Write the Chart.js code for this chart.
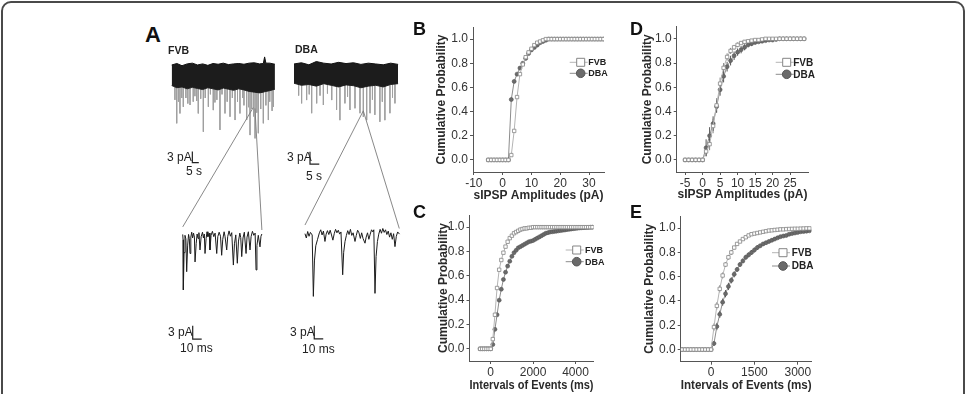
<!DOCTYPE html>
<html>
<head>
<meta charset="utf-8">
<script src="https://cdn.jsdelivr.net/npm/chart.js@4.4.0/dist/chart.umd.min.js"></script>
<style>
body { margin: 0; background: #fff; width: 967px; height: 394px; overflow: hidden; position: relative; font-family: "Liberation Sans", Arial, sans-serif; }
#frame { position: absolute; left: 1px; top: 1px; width: 964px; height: 440px; border: 2px solid #4a4a4a; border-radius: 10px; box-sizing: border-box; }
canvas { position: absolute; }
.lbl { position: absolute; color: #222; white-space: nowrap; line-height: 1; }
.letter { font-weight: bold; font-size: 18px; color: #111; }
.strain { font-weight: bold; font-size: 10.5px; }
.sc { font-size: 12px; }
</style>
</head>
<body>
<div id="frame"></div>

<canvas id="fvbLong" width="120" height="130" style="left:165px;top:55px"></canvas>
<canvas id="dbaLong" width="125" height="130" style="left:285px;top:55px"></canvas>
<canvas id="fvbZoom" width="120" height="260" style="left:165px;top:100px"></canvas>
<canvas id="dbaZoom" width="125" height="260" style="left:285px;top:100px"></canvas>

<canvas id="chartB" width="192" height="192" style="left:420px;top:15px"></canvas>
<canvas id="chartC" width="195" height="194" style="left:417px;top:200px"></canvas>
<canvas id="chartD" width="190" height="192" style="left:630px;top:15px"></canvas>
<canvas id="chartE" width="190" height="194" style="left:630px;top:200px"></canvas>

<div class="lbl letter" style="left:145px;top:24px;font-size:22px">A</div>
<div class="lbl strain" style="left:168px;top:45px">FVB</div>
<div class="lbl strain" style="left:295px;top:44px">DBA</div>
<div class="lbl sc" style="left:167px;top:151px">3 pA</div>
<div class="lbl sc" style="left:186px;top:165px">5 s</div>
<div class="lbl sc" style="left:287px;top:151px">3 pA</div>
<div class="lbl sc" style="left:306px;top:170px">5 s</div>
<div class="lbl sc" style="left:168px;top:326px">3 pA</div>
<div class="lbl sc" style="left:180px;top:342px">10 ms</div>
<div class="lbl sc" style="left:290px;top:326px">3 pA</div>
<div class="lbl sc" style="left:302px;top:343px">10 ms</div>

<div class="lbl letter" style="left:413px;top:20px">B</div>
<div class="lbl letter" style="left:413px;top:203px">C</div>
<div class="lbl letter" style="left:630px;top:20px">D</div>
<div class="lbl letter" style="left:630px;top:203px">E</div>

<script>
// ---- panel A: example traces (time in s / ms, current in pA) ----
const fvbBandT = [0, 4, 8, 12, 16, 20, 24, 28, 32, 36, 40, 44, 48, 52, 56, 60, 64, 68, 71, 72, 73, 76, 80]
const fvbBandHi = [3.0, 3.4, 2.8, 3.3, 3.5, 3.0, 3.3, 2.9, 3.4, 3.2, 3.5, 3.1, 3.3, 3.4, 3.2, 3.5, 3.6, 3.3, 3.4, 5.2, 3.5, 3.5, 3.2]
const fvbBandLo = [-2.6, -3.2, -3.0, -3.5, -3.1, -3.4, -3.7, -3.2, -3.5, -3.8, -3.3, -3.6, -3.9, -3.5, -3.8, -4.2, -4.4, -4.6, -4.4, -4.3, -4.2, -4.0, -3.6]
const fvbSpikeT = [2.5, 3.9, 5.2, 6.4, 7.8, 9.0, 11, 12.5, 14.2, 16.7, 18, 19.4, 20.6, 22.5, 24.5, 26, 28.4, 30, 32.2, 33.5, 35, 37.4, 39, 41.3, 43, 45.2, 47, 49.1, 51, 52.9, 55, 56, 58.1, 59.5, 60.7, 62, 63.4, 64.6, 66, 67.1, 69, 71.0, 73, 74.9, 76, 77.8, 78.8]
const fvbSpikeI = [-6.5, -12.9, -7, -10.2, -6, -8.4, -6, -7.5, -7.9, -7.0, -5.5, -6.8, -10.2, -6.2, -15.2, -6, -8.4, -5, -9.3, -7.2, -6.5, -14.7, -5, -10.2, -7, -11.1, -6, -12.0, -7, -10.2, -6, -8, -12.0, -8.5, -16.1, -9, -11, -17.0, -10, -15.6, -9, -12.9, -8, -12.0, -7, -9.5, -8.4]

const dbaBandT = [0, 4, 8, 12, 16, 20, 24, 28, 32, 36, 40, 44, 48, 52, 56]
const dbaBandHi = [2.2, 2.5, 2.0, 2.8, 2.4, 2.2, 2.6, 2.3, 2.5, 2.1, 2.4, 2.2, 2.0, 2.4, 2.1]
const dbaBandLo = [-2.5, -3.0, -2.8, -3.2, -2.6, -3.0, -3.4, -2.9, -3.1, -3.6, -3.2, -3.0, -3.4, -2.8, -2.6]
const dbaSpikeT = [2.5, 4.1, 6.8, 8.2, 9.5, 12.2, 14, 15.8, 18, 20.3, 22.9, 24.7, 27.4, 28.8, 30.1, 32.8, 35.5, 37.3, 39.1, 40.9, 42.2, 43.5, 46.2, 47.5, 48.9, 51.6, 53, 54.3]
const dbaSpikeI = [-5.5, -7.4, -6.6, -5.2, -9.8, -7.4, -5.5, -7.8, -5, -6.6, -9.0, -11.5, -7.4, -5.8, -9.0, -8.6, -9.8, -10.7, -11.5, -9.8, -6.5, -10.2, -11.9, -7, -11.5, -9.8, -6, -7.4]

const fvbZoomT = [0, 0.4, 0.7, 1.5, 2.5, 3.5, 4.4, 5.5, 6.5, 7.3, 8.1, 9, 10, 11, 12, 13, 13.7, 15, 16, 17, 18, 19.2, 20.5, 22, 23, 24, 24.8, 26, 27, 28, 29.5, 30.3, 31.5, 33, 34.5, 36, 37.8, 39, 40.5, 42, 43.3, 44.5, 46, 47, 48.9, 50, 51.5, 53, 54.5, 56.3, 57.5, 59, 60.7, 62, 63.5, 64.5, 65.6, 67, 68.5, 70.4, 71.5, 73, 74.8, 76, 77.5, 79, 80.5, 81.5, 82.5, 84, 85.9, 87, 88]
const fvbZoomI = [0.6, -0.6, -11.9, -3.5, 0.4, -0.4, -7.8, -1.8, 0.6, -0.3, -3.7, 0, 1.1, -0.2, 0.9, 0, -5.6, -1.4, 0.7, -0.3, 1, -2.9, 0.1, 1.1, -0.2, 0.7, -3.7, -0.3, 1.2, 0.1, 0.9, -2.9, 0.4, 1.3, 0.1, 0.9, -3.7, 0.1, 1.1, 0.2, -4.1, -0.5, 1.2, 0.2, -2.9, 0.1, 1.4, 0.2, 1, -6.3, -1.5, 0.5, -5.9, -0.9, 0.9, -0.1, -4.4, -0.2, 1.1, -3.7, 0, 1.2, -2.9, 0.1, 1.3, 0.4, 0.9, -7.4, -1.9, 0.4, -2.2, 0.2, 0.7]
const dbaZoomT = [0, 1.5, 3, 4.5, 6, 8, 9.3, 10.5, 12, 14, 16, 17.5, 19, 20.5, 22.2, 23.5, 25, 26.5, 28, 29.5, 31, 32.5, 34, 35.5, 37, 38.5, 40, 41.9, 43, 44.5, 46, 47.5, 49, 50.5, 52, 53.5, 55.6, 57, 58.5, 60, 61.5, 63, 64.5, 66.7, 68, 69.5, 71, 72.5, 74, 75.5, 76.5, 77.8, 79, 80.5, 82, 83.5, 85, 86.5, 88, 89.5, 91, 92.5, 94, 95.5, 97, 98.5, 100, 101.5, 103, 105]
const dbaZoomI = [0.3, -0.7, 0.8, -0.3, 0.6, 0, -14.2, -6, -2.5, -1, 0.5, 1.2, 0, 0.9, -1.5, 0.2, 1, 0.1, 1.1, 0, -1.2, 0.3, 1.3, 0.5, 1.1, 0.2, 0.7, -9.2, -4, -1.5, -0.1, 1, 0.1, 1.3, -0.1, 0.5, -1.5, -0.1, 1.1, 0.5, -0.8, 0.5, -0.8, -1.9, -0.5, 0.5, -1, 0.2, 1.2, 0.7, 1.2, -13.5, -5, -1.5, 0.2, 1.3, 0.4, 1.5, 0.6, 1.2, 0.1, 0.9, -0.5, 0.5, -1, 0.3, -2.7, -0.3, 0.7, 0.2]

// ---- panels B-E: cumulative probability ----
const yTicks = [0, 0.2, 0.4, 0.6, 0.8, 1.0]

const bX = [-5, -4, -3, -2, -1, 0, 1, 2, 3, 4, 5, 6, 7, 8, 9, 10, 11, 12, 13, 14, 15, 16, 17, 18, 19, 20, 21, 22, 23, 24, 25, 26, 27, 28, 29, 30, 31, 32, 33, 34, 35]
const bFvb = [0, 0, 0, 0, 0, 0, 0, 0, 0.04, 0.24, 0.52, 0.71, 0.79, 0.85, 0.89, 0.92, 0.95, 0.97, 0.98, 0.99, 1, 1, 1, 1, 1, 1, 1, 1, 1, 1, 1, 1, 1, 1, 1, 1, 1, 1, 1, 1, 1]
const bDba = [0, 0, 0, 0, 0, 0, 0, 0, 0.5, 0.65, 0.71, 0.76, 0.80, 0.84, 0.88, 0.91, 0.93, 0.95, 0.97, 0.98, 0.99, 1, 1, 1, 1, 1, 1, 1, 1, 1, 1, 1, 1, 1, 1, 1, 1, 1, 1, 1, 1]
const bXTicks = [-10, 0, 10, 20, 30]

const cX = [-500, -400, -300, -200, -100, 0, 100, 200, 300, 400, 500, 600, 700, 800, 900, 1000, 1100, 1200, 1300, 1400, 1500, 1600, 1700, 1800, 1900, 2000, 2100, 2200, 2300, 2400, 2500, 2600, 2700, 2800, 2900, 3000, 3100, 3200, 3300, 3400, 3500, 3600, 3700, 3800, 3900, 4000, 4100, 4200, 4300, 4400, 4500, 4600, 4700, 4800]
const cFvb = [0, 0, 0, 0, 0, 0, 0.08, 0.28, 0.5, 0.65, 0.73, 0.79, 0.84, 0.88, 0.91, 0.93, 0.95, 0.96, 0.97, 0.98, 0.985, 0.99, 0.99, 0.995, 0.995, 1, 1, 1, 1, 1, 1, 1, 1, 1, 1, 1, 1, 1, 1, 1, 1, 1, 1, 1, 1, 1, 1, 1, 1, 1, 1, 1, 1, 1]
const cDba = [0, 0, 0, 0, 0, 0, 0.035, 0.16, 0.28, 0.40, 0.49, 0.57, 0.63, 0.68, 0.72, 0.76, 0.79, 0.81, 0.83, 0.84, 0.85, 0.86, 0.87, 0.88, 0.885, 0.89, 0.90, 0.91, 0.92, 0.93, 0.94, 0.95, 0.955, 0.96, 0.962, 0.965, 0.967, 0.97, 0.972, 0.975, 0.977, 0.98, 0.982, 0.985, 0.988, 0.99, 0.992, 0.994, 0.995, 0.996, 0.997, 0.998, 0.999, 1.0]
const cXTicks = [0, 2000, 4000]

const dX = [-5, -4, -3, -2, -1, 0, 1, 2, 3, 4, 5, 6, 7, 8, 9, 10, 11, 12, 13, 14, 15, 16, 17, 18, 19, 20, 21, 22, 23, 24, 25, 26, 27, 28, 29]
const dFvb = [0, 0, 0, 0, 0, 0, 0.07, 0.13, 0.28, 0.45, 0.63, 0.76, 0.85, 0.90, 0.93, 0.95, 0.965, 0.975, 0.98, 0.985, 0.99, 0.99, 0.995, 1, 1, 1, 1, 1, 1, 1, 1, 1, 1, 1, 1]
const dDba = [0, 0, 0, 0, 0, 0, 0.1, 0.2, 0.3, 0.44, 0.58, 0.69, 0.77, 0.82, 0.86, 0.89, 0.91, 0.93, 0.95, 0.96, 0.97, 0.975, 0.98, 0.985, 0.99, 0.99, 0.995, 1, 1, 1, 1, 1, 1, 1, 1]
const dFvbErr = [0, 0, 0, 0, 0, 0, 0.04, 0.05, 0.06, 0.06, 0.05, 0.04, 0.03, 0.025, 0.02, 0.02, 0.015, 0.015, 0.01, 0.01, 0.01, 0, 0, 0, 0, 0, 0, 0, 0, 0, 0, 0, 0, 0, 0]
const dDbaErr = [0, 0, 0, 0, 0, 0, 0.07, 0.07, 0.06, 0.05, 0.05, 0.05, 0.04, 0.04, 0.035, 0.03, 0.03, 0.025, 0.02, 0.02, 0.015, 0.01, 0.01, 0.01, 0, 0, 0, 0, 0, 0, 0, 0, 0, 0, 0]
const dXTicks = [-5, 0, 5, 10, 15, 20, 25]

const eX = [-1000, -900, -800, -700, -600, -500, -400, -300, -200, -100, 0, 100, 200, 300, 400, 500, 600, 700, 800, 900, 1000, 1100, 1200, 1300, 1400, 1500, 1600, 1700, 1800, 1900, 2000, 2100, 2200, 2300, 2400, 2500, 2600, 2700, 2800, 2900, 3000, 3100, 3200, 3300, 3400]
const eFvb = [0, 0, 0, 0, 0, 0, 0, 0, 0, 0, 0, 0.185, 0.36, 0.5, 0.61, 0.70, 0.76, 0.80, 0.84, 0.87, 0.89, 0.91, 0.925, 0.94, 0.95, 0.955, 0.96, 0.965, 0.97, 0.975, 0.98, 0.982, 0.985, 0.987, 0.99, 0.99, 0.992, 0.993, 0.994, 0.995, 0.995, 0.996, 0.997, 0.998, 0.998]
const eDba = [0, 0, 0, 0, 0, 0, 0, 0, 0, 0, 0, 0.05, 0.19, 0.29, 0.39, 0.46, 0.52, 0.57, 0.62, 0.66, 0.70, 0.73, 0.76, 0.78, 0.80, 0.82, 0.84, 0.855, 0.87, 0.88, 0.89, 0.90, 0.91, 0.92, 0.93, 0.935, 0.94, 0.95, 0.955, 0.96, 0.965, 0.97, 0.972, 0.975, 0.978]
const eFvbErr = [0, 0, 0, 0, 0, 0, 0, 0, 0, 0, 0, 0.03, 0.03, 0.03, 0.025, 0.02, 0.02, 0.02, 0.015, 0.015, 0.01, 0.01, 0.01, 0.01, 0.01, 0.01, 0.01, 0.01, 0.01, 0.01, 0.01, 0, 0, 0, 0, 0, 0, 0, 0, 0, 0, 0, 0, 0, 0]
const eDbaErr = [0, 0, 0, 0, 0, 0, 0, 0, 0, 0, 0, 0.02, 0.03, 0.03, 0.03, 0.03, 0.03, 0.025, 0.025, 0.02, 0.02, 0.02, 0.02, 0.02, 0.02, 0.02, 0.02, 0.015, 0.015, 0.015, 0.015, 0.015, 0.015, 0.01, 0.01, 0.01, 0.01, 0.01, 0.01, 0.01, 0.01, 0.01, 0.01, 0.01, 0.01]
const eXTicks = [0, 1500, 3000]

Chart.defaults.font.family = '"Liberation Sans", Arial, sans-serif'

function pairs(xs, ys) {
    return xs.map(function(x, i) { return {x: x, y: ys[i]} })
}

function spikes(ts, amps) {
    let pts = []
    ts.forEach(function(t, i) {
        pts.push({x: t, y: 0}, {x: t, y: amps[i]}, {x: t, y: null})
    })
    return pts
}

function traceChart(id, xMin, xMax, yMin, yMax, datasets) {
    return new Chart(document.getElementById(id), {
        type: 'line',
        data: {datasets: datasets},
        options: {
            responsive: false, animation: false, events: [], devicePixelRatio: 1,
            layout: {padding: 0},
            plugins: {legend: {display: false}, tooltip: {enabled: false}},
            elements: {point: {radius: 0}, line: {tension: 0}},
            scales: {
                x: {type: 'linear', display: false, min: xMin, max: xMax},
                y: {type: 'linear', display: false, min: yMin, max: yMax}
            }
        }
    })
}

function bandSets(ts, hi, lo, spT, spI) {
    return [
        {data: pairs(ts, hi), borderColor: '#111', borderWidth: 1, fill: '+1', backgroundColor: '#1c1c1c', order: 1},
        {data: pairs(ts, lo), borderColor: '#2a2a2a', borderWidth: 1, fill: false, order: 1},
        {data: spikes(spT, spI), borderColor: '#a0a0a0', borderWidth: 1, spanGaps: false, order: 2}
    ]
}

function scaleBar(t, top, len, dur) {
    return {data: [{x: t, y: top}, {x: t, y: top - len}, {x: t + dur, y: top - len}], borderColor: '#222', borderWidth: 1.2, order: 0}
}

traceChart('fvbLong', -5.19, 87.8, -29.7, 5.72,
    bandSets(fvbBandT, fvbBandHi, fvbBandLo, fvbSpikeT, fvbSpikeI).concat([scaleBar(16, -20.6, 3, 5)]))
traceChart('dbaLong', -4.84, 62.4, -27.3, 4.39,
    bandSets(dbaBandT, dbaBandHi, dbaBandLo, dbaSpikeT, dbaSpikeI).concat([scaleBar(8.6, -19.2, 3, 5)]))

traceChart('fvbZoom', -19.7, 113.7, -27.7, 30.9, [
    {data: pairs(fvbZoomT, fvbZoomI), borderColor: '#1c1c1c', borderWidth: 1},
    {data: [{x: 0, y: 2.3}, {x: 78.4, y: 29.2}], borderColor: '#7a7a7a', borderWidth: 0.9},
    {data: [{x: 88, y: 1.6}, {x: 80.3, y: 29}], borderColor: '#7a7a7a', borderWidth: 0.9},
    scaleBar(11.1, -20, 3, 10)
])
traceChart('dbaZoom', -22.2, 116.7, -28.9, 31.2, [
    {data: pairs(dbaZoomT, dbaZoomI), borderColor: '#1c1c1c', borderWidth: 1},
    {data: [{x: 0, y: 2.3}, {x: 64.8, y: 28.7}], borderColor: '#7a7a7a', borderWidth: 0.9},
    {data: [{x: 104.8, y: 1.5}, {x: 64.8, y: 28.7}], borderColor: '#7a7a7a', borderWidth: 0.9},
    scaleBar(10.3, -21, 3, 10)
])

// legend drawn inside the plot, line-marker-line like the original
const sideLegend = {
    id: 'sideLegend',
    afterDraw(chart, args, opts) {
        const ctx = chart.ctx
        chart.data.datasets.forEach(function(ds, i) {
            const x = opts.x
            const y = opts.y + i * opts.gap
            ctx.save()
            ctx.strokeStyle = ds.borderColor
            ctx.lineWidth = 1
            ctx.beginPath()
            ctx.moveTo(x - 11, y)
            ctx.lineTo(x + 7, y)
            ctx.stroke()
            ctx.fillStyle = ds.pointBackgroundColor
            ctx.strokeStyle = ds.pointBorderColor
            ctx.beginPath()
            if (ds.pointStyle == 'rect') {
                ctx.rect(x - 4, y - 4, 8, 8)
            } else {
                ctx.arc(x, y, 4.3, 0, Math.PI * 2)
            }
            ctx.fill()
            ctx.stroke()
            ctx.fillStyle = '#222'
            ctx.font = 'bold ' + opts.size + 'px "Liberation Sans", Arial, sans-serif'
            ctx.textBaseline = 'middle'
            ctx.fillText(ds.label, x + opts.textGap, y + 0.5)
            ctx.restore()
        })
    }
}

const errorBars = {
    id: 'errorBars',
    beforeDatasetsDraw(chart) {
        const ctx = chart.ctx
        const xs = chart.scales.x
        const ys = chart.scales.y
        chart.data.datasets.forEach(function(ds) {
            if (!ds.errors) return
            ctx.save()
            ctx.strokeStyle = ds.pointBorderColor
            ctx.lineWidth = 1
            ds.data.forEach(function(p, i) {
                const e = ds.errors[i]
                if (!e) return
                const px = xs.getPixelForValue(p.x)
                ctx.beginPath()
                ctx.moveTo(px, ys.getPixelForValue(p.y - e))
                ctx.lineTo(px, ys.getPixelForValue(p.y + e))
                ctx.stroke()
            })
            ctx.restore()
        })
    }
}

function cumChart(id, cfg) {
    const fvbSet = {
        label: 'FVB', data: pairs(cfg.x, cfg.fvb), errors: cfg.fvbErr,
        borderColor: '#b4b4b4', borderWidth: 1,
        pointStyle: 'rect', pointRadius: 2.4, pointBackgroundColor: '#fff', pointBorderColor: '#858585', pointBorderWidth: 0.8
    }
    const dbaSet = {
        label: 'DBA', data: pairs(cfg.x, cfg.dba), errors: cfg.dbaErr,
        borderColor: '#8c8c8c', borderWidth: 1,
        pointStyle: 'circle', pointRadius: 2.0, pointBackgroundColor: '#6a6a6a', pointBorderColor: '#555', pointBorderWidth: 0.6
    }
    new Chart(document.getElementById(id), {
        type: 'line',
        data: {datasets: [fvbSet, dbaSet]},
        plugins: [sideLegend, errorBars],
        options: {
            responsive: false, animation: false, events: [], devicePixelRatio: 1,
            layout: {padding: {top: cfg.padTop, right: cfg.padRight, left: 0, bottom: 0}},
            elements: {line: {tension: 0}},
            plugins: {
                legend: {display: false}, tooltip: {enabled: false},
                sideLegend: cfg.legend
            },
            scales: {
                x: {
                    type: 'linear', min: cfg.xMin, max: cfg.xMax,
                    afterBuildTicks: function(s) { s.ticks = cfg.xTicks.map(function(v) { return {value: v} }) },
                    afterFit: function(s) { s.height = cfg.xHeight },
                    ticks: {font: {size: 12}, color: '#333', padding: 1, maxRotation: 0, autoSkip: false,
                        callback: function(v) { return String(v) }},
                    grid: {drawOnChartArea: false, tickLength: 3, color: '#555'},
                    border: {color: '#555', width: 1},
                    title: {display: true, text: cfg.xTitle, color: '#2a2a2a', font: {size: 12, weight: 'bold'},
                        padding: {top: 0, bottom: cfg.xTitlePad}}
                },
                y: {
                    type: 'linear', min: -0.1, max: 1.1,
                    afterBuildTicks: function(s) { s.ticks = yTicks.map(function(v) { return {value: v} }) },
                    afterFit: function(s) { s.width = cfg.yWidth },
                    ticks: {font: {size: 12}, color: '#333', padding: 2, autoSkip: false,
                        callback: function(v) { return v.toFixed(1) }},
                    grid: {drawOnChartArea: false, tickLength: 3, color: '#555'},
                    border: {color: '#555', width: 1},
                    title: {display: true, text: 'Cumulative Probability', color: '#2a2a2a', font: {size: 12, weight: 'bold'},
                        padding: {top: cfg.yTitlePad, bottom: 0}}
                }
            }
        }
    })
}

cumChart('chartB', {
    x: bX, fvb: bFvb, dba: bDba, xMin: -10.3, xMax: 35.2, xTicks: bXTicks,
    xTitle: 'sIPSP Amplitudes (pA)', padTop: 12, padRight: 8, yWidth: 53, xHeight: 35,
    yTitlePad: 14.5, xTitlePad: 3.8,
    legend: {x: 160.7, y: 47.3, gap: 11, size: 9, textGap: 7.5}
})
cumChart('chartC', {
    x: cX, fvb: cFvb, dba: cDba, xMin: -1000, xMax: 4850, xTicks: cXTicks,
    xTitle: 'Intervals of Events (ms)', padTop: 15, padRight: 18.5, yWidth: 52.5, xHeight: 33,
    yTitlePad: 19, xTitlePad: 1,
    legend: {x: 159.7, y: 50, gap: 11.7, size: 9, textGap: 8.3}
})
cumChart('chartD', {
    x: dX, fvb: dFvb, dba: dDba, fvbErr: dFvbErr, dbaErr: dDbaErr, xMin: -7.4, xMax: 30.2, xTicks: dXTicks,
    xTitle: 'sIPSP Amplitudes (pA)', padTop: 11.7, padRight: 11.7, yWidth: 46.7, xHeight: 35,
    yTitlePad: 10, xTitlePad: 5.5,
    legend: {x: 156.7, y: 47.3, gap: 12, size: 10, textGap: 6.5}
})
cumChart('chartE', {
    x: eX, fvb: eFvb, dba: eDba, fvbErr: eFvbErr, dbaErr: eDbaErr, xMin: -1050, xMax: 3480, xTicks: eXTicks,
    xTitle: 'Intervals of Events (ms)', padTop: 16, padRight: 8.3, yWidth: 50.7, xHeight: 32.3,
    yTitlePad: 12.8, xTitlePad: 1,
    legend: {x: 153, y: 52.7, gap: 13.3, size: 10, textGap: 8.7}
})
</script>
</body>
</html>
